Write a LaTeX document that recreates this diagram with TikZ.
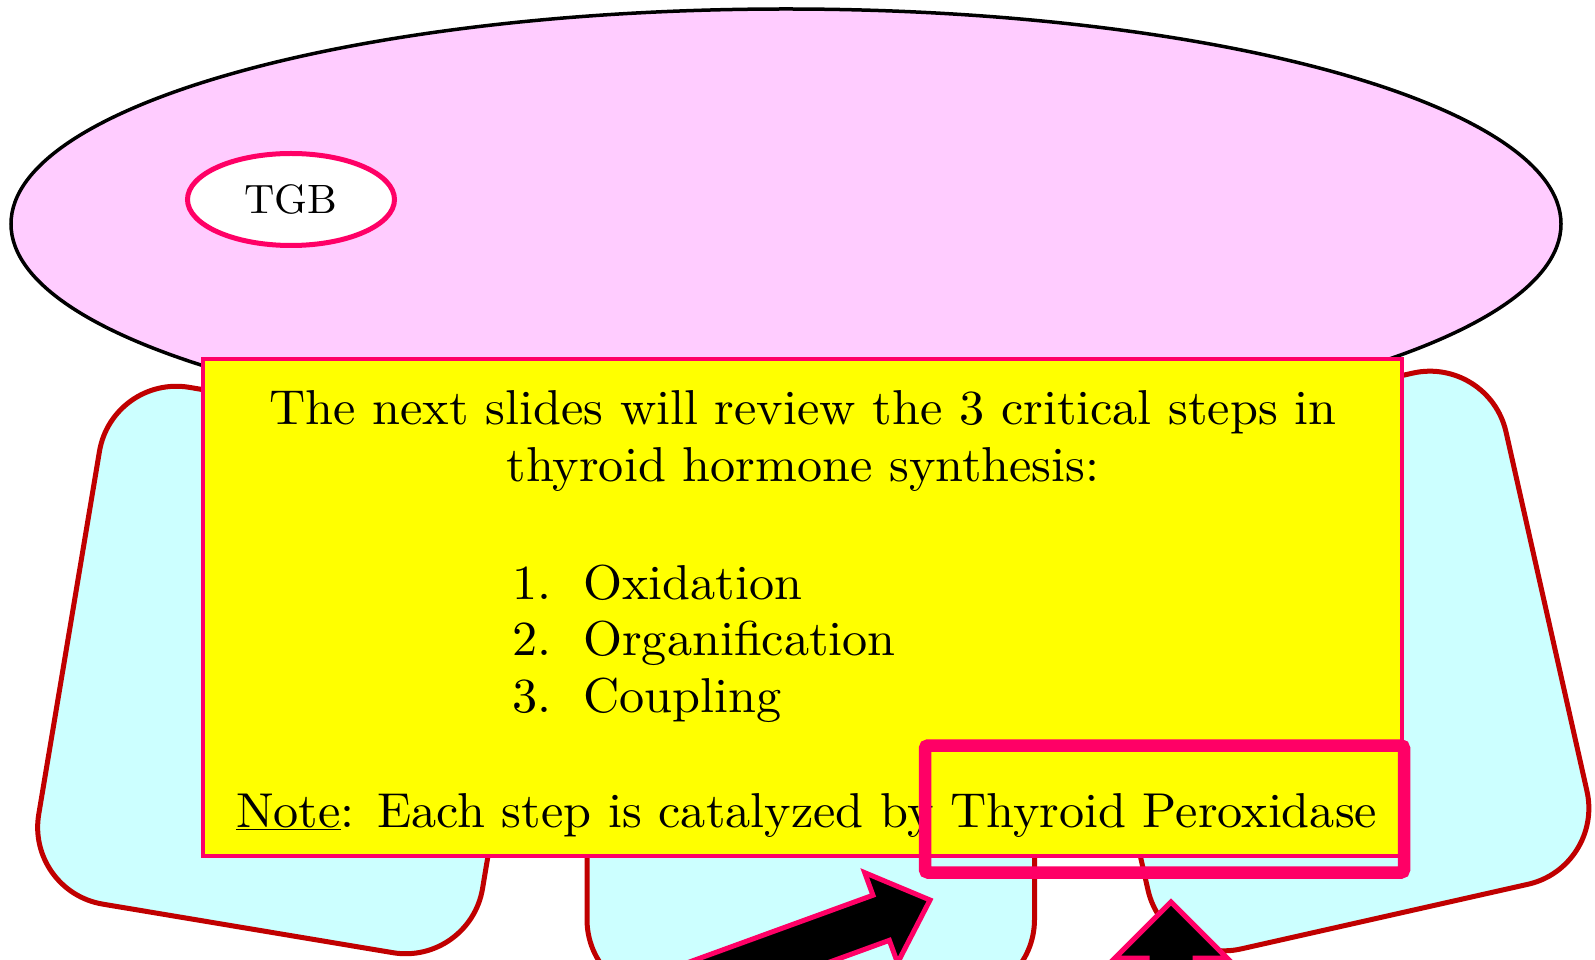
\documentclass[tikz,border=0pt]{standalone}
\usepackage{fontspec}
\usepackage{xcolor}
\usepackage{tikz}
\usetikzlibrary{shapes.geometric, positioning, calc}
\newfontfamily\avisofont{lmroman10-regular}[Extension=.otf, FakeStretch=1.025]
\definecolor{rosacoloide}{HTML}{FFCCFF}
\definecolor{cianoclaro}{HTML}{CCFFFF}
\definecolor{vermelhoesc}{HTML}{C00000}
\definecolor{rosaforte}{HTML}{FF0066}
\definecolor{amarelo}{HTML}{FFFF00}

\begin{document}
\begin{tikzpicture}[x=1pt, y=1pt,
    coloide/.style={draw, ellipse, line width=3.5pt, fill=rosacoloide, minimum width=1550pt, minimum height=430pt},
    tgbovo/.style={draw=rosaforte, ellipse, line width=5pt, fill=white, minimum width=207pt, minimum height=92pt, inner sep=0pt, font=\avisofont\fontsize{41}{50}\selectfont},
    celula/.style={draw=vermelhoesc, fill=cianoclaro, line width=5pt, rounded corners=78pt, minimum width=450pt, minimum height=524pt},
    aviso/.style={draw=rosaforte, fill=amarelo, line width=4pt, minimum width=1199pt, minimum height=497pt},
    destaque/.style={draw=rosaforte, line width=12.5pt, rounded corners=3pt, minimum width=479pt, minimum height=127pt},
    texto/.style={inner sep=0pt, font=\avisofont\fontsize{49}{57}\selectfont},
    seta/.style={fill=black, draw=rosaforte, line width=5pt}
]
    \useasboundingbox (0,0) rectangle (1595,959);
    \clip (0,0) rectangle (1595,959);

    \node[coloide] (coloide) at (786,735) {};
    \node[tgbovo] (tgb) at (291,759.5) {TGB};

    \node[celula, rotate=-9.5] (celesq) at (291,289) {};
    \node[celula, minimum width=447.5pt] (celmeio) at (810.75,223.5) {};
    \node[celula, rotate=12.7] (celdir) at (1327,298) {};

    \node[aviso] (aviso) at (802.5,351.5) {};

    \node[texto, anchor=base] (linha1) at (803,534) {The next slides will review the 3 critical steps in};
    \node[texto, anchor=base] (linha2) at (803,477) {thyroid hormone synthesis:};
    \node[texto, anchor=base west] (passo1) at (512,359) {\makebox[71pt][l]{1.}Oxidation};
    \node[texto, anchor=base west] (passo2) at (512,303) {\makebox[71pt][l]{2.}Organification};
    \node[texto, anchor=base west] (passo3) at (512,247) {\makebox[71pt][l]{3.}Coupling};
    \node[texto, anchor=base west] (nota) at (236,132) {\underline{Note}: Each step is catalyzed by Thyroid Peroxidase};

    \node[destaque] (tpo) at (1164.5,150) {};

    % setas grossas
    \begin{scope}[shift={(930,59)}, rotate=20]
        \filldraw[seta] (0,0) -- (-52,48) -- (-52,24) -- (-400,24) -- (-400,-24) -- (-52,-24) -- (-52,-48) -- cycle;
    \end{scope}
    \begin{scope}[shift={(1171,57)}, rotate=90]
        \filldraw[seta] (0,0) -- (-56,56) -- (-56,24) -- (-400,24) -- (-400,-24) -- (-56,-24) -- (-56,-56) -- cycle;
    \end{scope}
\end{tikzpicture}
\end{document}
